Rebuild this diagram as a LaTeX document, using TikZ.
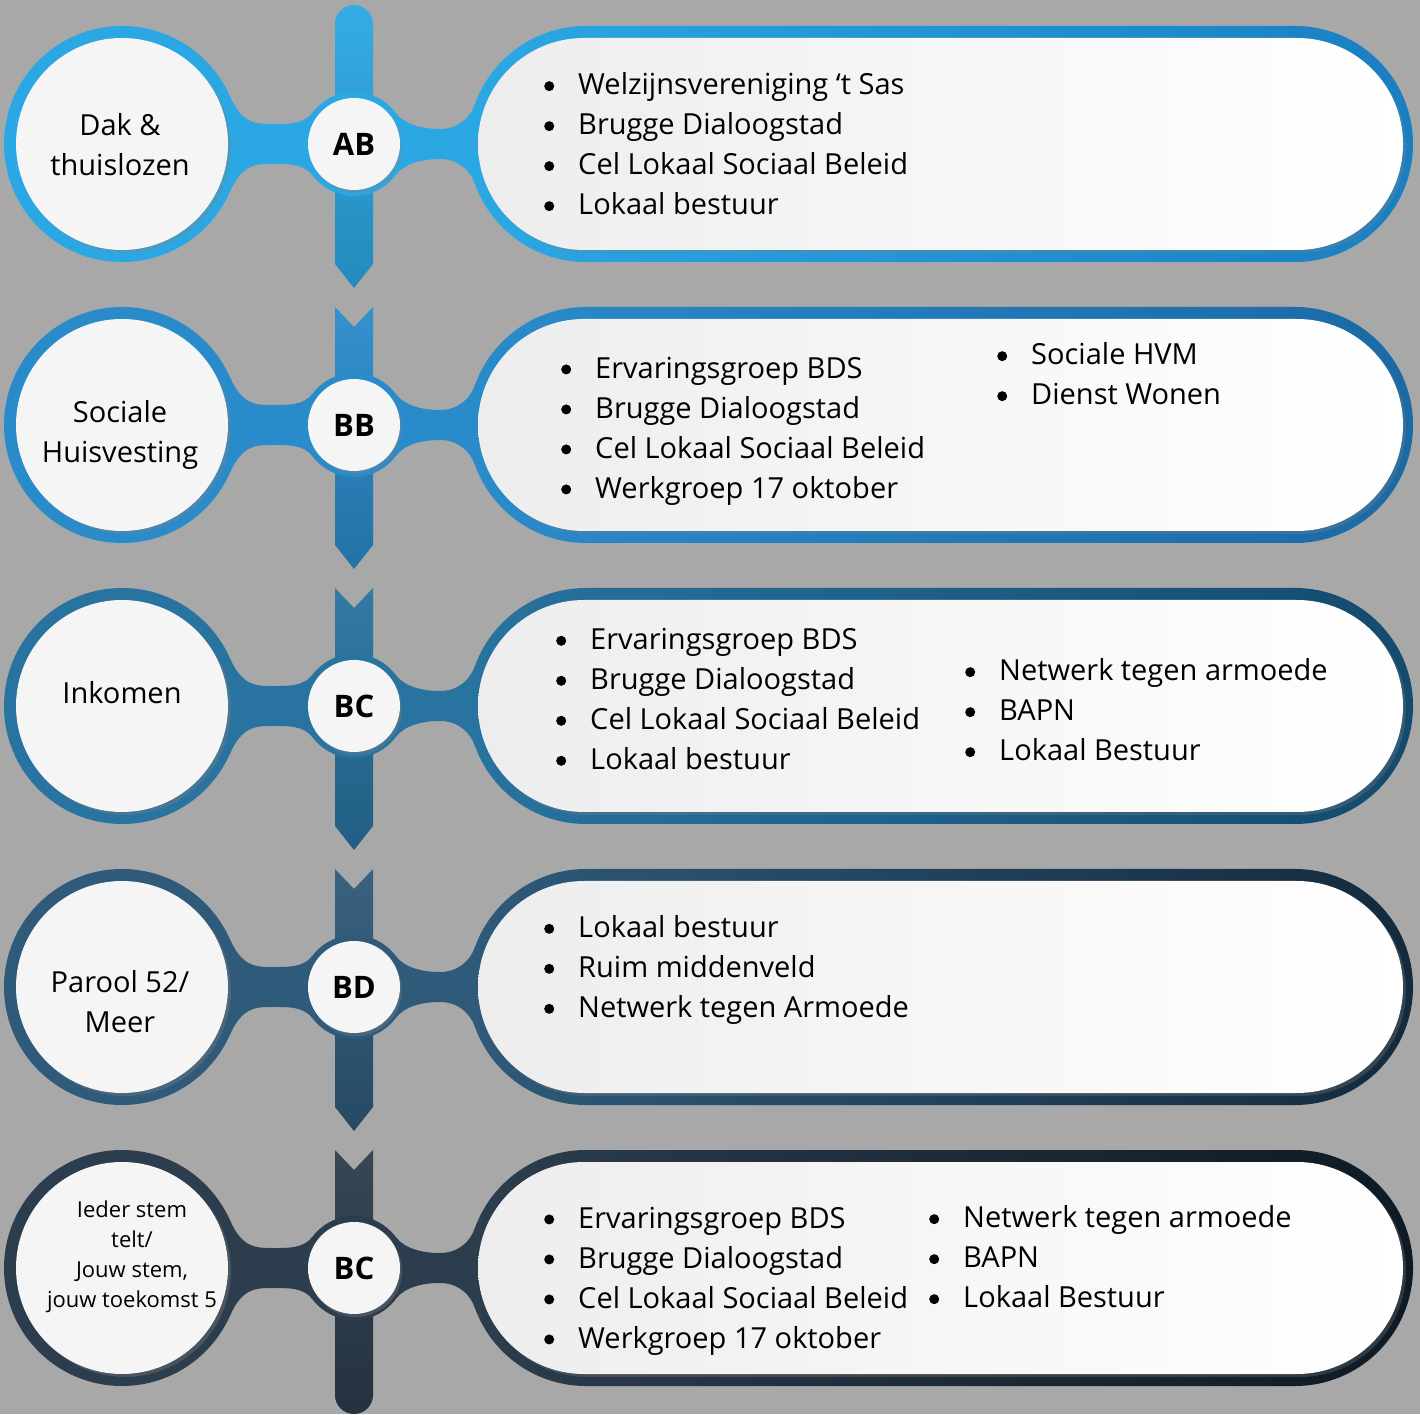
\documentclass[tikz,border=0pt]{standalone}
\usepackage{fontspec}
\setmainfont{Open Sans}
\usetikzlibrary{calc,shadows}
\definecolor{bgray}{HTML}{A8A8A8}
\definecolor{rowA}{HTML}{2BA8E4}
\definecolor{rowAd}{HTML}{1A7FC2}
\definecolor{rowB}{HTML}{2A8BCB}
\definecolor{rowBd}{HTML}{1B69A5}
\definecolor{rowC}{HTML}{28739F}
\definecolor{rowCd}{HTML}{144A6E}
\definecolor{rowD}{HTML}{2F5A7A}
\definecolor{rowDd}{HTML}{142A3D}
\definecolor{rowE}{HTML}{2C3D4D}
\definecolor{rowEd}{HTML}{0E1A24}
\newcommand{\itm}{\makebox[34pt][l]{\tikz[baseline=-0.3em]\fill (0,0) circle (5pt);}}
\begin{document}
\begin{tikzpicture}[x=1pt,y=1pt,
  disc/.style={circle,inner sep=0pt,outer sep=0pt,minimum size=236pt},
  pill/.style={rectangle,rounded corners=118pt,minimum width=945pt,minimum height=236pt,inner sep=0pt,outer sep=0pt},
  bigface/.style={circle,inner sep=0pt,minimum size=212pt,fill=white!96!black,
    drop shadow={shadow xshift=3pt,shadow yshift=-3pt,opacity=.35}},
  smallface/.style={circle,inner sep=0pt,minimum size=92pt,fill=white!96!black,
    font=\fontsize{31}{31}\selectfont\bfseries,
    drop shadow={shadow xshift=2pt,shadow yshift=-3pt,opacity=.35}},
  pillface/.style={rectangle,rounded corners=106pt,minimum width=925pt,minimum height=212pt,inner sep=0pt,
    left color=black!7,right color=white,
    drop shadow={shadow xshift=3pt,shadow yshift=-3pt,opacity=.3}},
  bar/.style={top color=#1!95!white,bottom color=#1!82!black},
  circtext/.style={align=center,font=\fontsize{29}{40}\selectfont,inner sep=0pt},
  lst/.style={anchor=west,align=left,font=\fontsize{29}{40}\selectfont,inner sep=0pt}]
\useasboundingbox (0,0) rectangle (1420,1414);
\fill[bgray] (0,0) rectangle (1420,1414);
% vertical arrows
\path[bar=rowA] (335,1150) -- (335,1390) arc[start angle=180,end angle=0,radius=19] -- (373,1150) -- (354,1126) -- cycle;
\path[bar=rowB] (335,1107) -- (354,1087) -- (373,1107) -- (373,869) -- (354,845) -- (335,869) -- cycle;
\path[bar=rowC] (335,826) -- (354,806) -- (373,826) -- (373,588) -- (354,564) -- (335,588) -- cycle;
\path[bar=rowD] (335,545) -- (354,525) -- (373,545) -- (373,307) -- (354,283) -- (335,307) -- cycle;
\path[bar=rowE] (335,264) -- (354,244) -- (373,264) -- (373,19) arc[start angle=0,end angle=-180,radius=19] -- cycle;
% rings, necks and pills
\foreach \i/\c/\a/\b in {1/1270/rowA/rowAd,2/989/rowB/rowBd,3/708/rowC/rowCd,4/427/rowD/rowDd,5/146/rowE/rowEd}{
  \node[disc,fill=\a] (c\i) at (122,\c) {};
  \node[disc,fill=\a,minimum size=104pt] (s\i) at (354,\c) {};
  \node[pill,left color=\a,right color=\b] (p\i) at (940.5,\c) {};
  \fill[\a] (c\i.24) .. controls +(12,-27) and +(-15,0) .. (270,\c+20) .. controls +(18,0) and +(-9,-12) .. (s\i.143)
    -- (s\i.-143) .. controls +(-9,12) and +(18,0) .. (270,\c-20) .. controls +(-15,0) and +(12,27) .. (c\i.-24) -- cycle;
  \fill[\a] (s\i.37) .. controls +(9,-12) and +(-18,0) .. (440,\c+15) .. controls +(18,0) and +(-5,-14) .. ($(p\i.west)+(7,40)$)
    -- ($(p\i.west)+(7,-40)$) .. controls +(-5,14) and +(18,0) .. (440,\c-15) .. controls +(-18,0) and +(9,12) .. (s\i.-37) -- cycle;
  \node[bigface] (f\i) at (c\i) {};
  \node[pillface] (q\i) at (p\i) {};
}
\node[smallface] (ab) at (s1) {AB};
\node[smallface] (bb) at (s2) {BB};
\node[smallface] (bc) at (s3) {BC};
\node[smallface] (bd) at (s4) {BD};
\node[smallface] (bc2) at (s5) {BC};
% circle texts
\node[circtext] (dak) at (120,1269) {Dak \&\\thuislozen};
\node[circtext] (soc) at (120,979) {Sociale\\Huisvesting};
\node[circtext] (ink) at (122,721) {Inkomen};
\node[circtext] (par) at (120,412) {Parool 52/\\Meer};
\node[circtext,font=\fontsize{22}{30}\selectfont] (ied) at (132,157) {Ieder stem\\telt/\\Jouw stem,\\jouw toekomst 5};
% lists
\node[lst] (l1) at (544,1270) {\itm Welzijnsvereniging ‘t Sas\\\itm Brugge Dialoogstad\\\itm Cel Lokaal Sociaal Beleid\\\itm Lokaal bestuur};
\node[lst] (l2) at (561,983) {\itm Ervaringsgroep BDS\\\itm Brugge Dialoogstad\\\itm Cel Lokaal Sociaal Beleid\\\itm Werkgroep 17 oktober};
\node[lst] (r2) at (997,1040) {\itm Sociale HVM\\\itm Dienst Wonen};
\node[lst] (l3) at (556,715) {\itm Ervaringsgroep BDS\\\itm Brugge Dialoogstad\\\itm Cel Lokaal Sociaal Beleid\\\itm Lokaal bestuur};
\node[lst] (r3) at (965,704) {\itm Netwerk tegen armoede\\\itm BAPN\\\itm Lokaal Bestuur};
\node[lst] (l4) at (544,444) {\itm Lokaal bestuur\\\itm Ruim middenveld\\\itm Netwerk tegen Armoede};
\node[lst] (l5) at (544,133) {\itm Ervaringsgroep BDS\\\itm Brugge Dialoogstad\\\itm Cel Lokaal Sociaal Beleid\\\itm Werkgroep 17 oktober};
\node[lst] (r5) at (929,157) {\itm Netwerk tegen armoede\\\itm BAPN\\\itm Lokaal Bestuur};
\end{tikzpicture}
\end{document}
